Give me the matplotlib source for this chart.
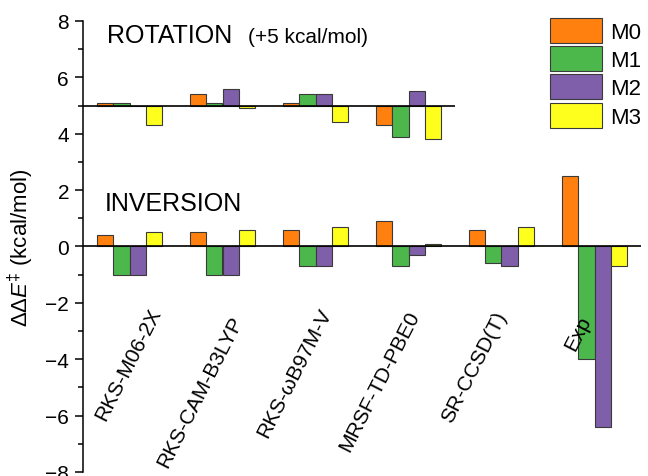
import matplotlib
matplotlib.use("Agg")
import matplotlib.pyplot as plt
import numpy as np

plt.rcParams["font.family"] = ["Liberation Sans", "DejaVu Sans"]
plt.rcParams["mathtext.fontset"] = "custom"
plt.rcParams["mathtext.rm"] = "Liberation Sans"
plt.rcParams["mathtext.it"] = "Liberation Sans:italic"
plt.rcParams["mathtext.bf"] = "Liberation Sans:bold"

# Methods and models
methods = ["RKS-M06-2X", "RKS-CAM-B3LYP", "RKS-\u03c9B97M-V",
           "MRSF-TD-PBE0", "SR-CCSD(T)", "Exp"]
models = ["M0", "M1", "M2", "M3"]

# Rotation barriers (shown shifted by +5 kcal/mol), first four methods only
rotation_M0 = [5.1, 5.4, 5.1, 4.3]
rotation_M1 = [5.1, 5.1, 5.4, 3.9]
rotation_M2 = [5.0, 5.6, 5.4, 5.5]
rotation_M3 = [4.3, 4.9, 4.4, 3.8]

# Inversion barriers
inversion_M0 = [0.4, 0.5, 0.6, 0.9, 0.6, 2.5]
inversion_M1 = [-1.0, -1.0, -0.7, -0.7, -0.6, -4.0]
inversion_M2 = [-1.0, -1.0, -0.7, -0.3, -0.7, -6.4]
inversion_M3 = [0.5, 0.6, 0.7, 0.1, 0.7, -0.7]

rotation_offset = 5.0

colors = ["#FF800E", "#4CB84C", "#7F5FAA", "#FFFF1E"]
edge = "#3a3a3a"

fig = plt.figure(figsize=(6.48, 4.77), dpi=100)
ax = fig.add_axes([83 / 648, 1 - 473 / 477, 558 / 648, 451 / 477])

x = np.arange(len(methods))
w = 0.1726
rot = [rotation_M0, rotation_M1, rotation_M2, rotation_M3]
inv = [inversion_M0, inversion_M1, inversion_M2, inversion_M3]

xr = np.arange(len(rotation_M0))
for k in range(4):
    off = (k - 1.5) * w
    vals = np.array(rot[k])
    ax.bar(xr + off, vals - rotation_offset, width=w, bottom=rotation_offset,
           color=colors[k], edgecolor=edge, linewidth=0.8, align="center",
           zorder=2)
    ax.bar(x + off, inv[k], width=w, color=colors[k], edgecolor=edge,
           linewidth=0.8, align="center", zorder=2, label=models[k])

ax.axhline(0, color="black", lw=1.2, zorder=3)
ax.hlines(rotation_offset, -0.5, len(rotation_M0) - 0.5, color="black",
          lw=1.2, zorder=3)

ax.set_xlim(-0.5, len(methods) - 0.5)
ax.set_ylim(-8, 8)
ax.set_yticks(np.arange(-8, 9, 2))
ax.set_yticks(np.arange(-8, 9, 1), minor=True)
ax.set_xticks([])
for s in ("top", "right", "bottom"):
    ax.spines[s].set_visible(False)
ax.spines["left"].set_linewidth(1.1)
ax.tick_params(axis="y", which="major", length=6, width=1.1, labelsize=15,
               pad=4)
ax.tick_params(axis="y", which="minor", length=3.5, width=1.1)

ax.set_ylabel(r"$\Delta\Delta\mathit{E}^{\ddagger}$ (kcal/mol)", fontsize=16)
ax.yaxis.set_label_coords(-0.084, 0.5)

# Method names written diagonally inside the plot area
label_x = [0.38, 1.26, 2.21, 3.16, 4.10, 5.0]
label_y = [-2.06, -2.35, -2.06, -2.17, -2.17, -2.35]
for name, lx, ly in zip(methods, label_x, label_y):
    ax.text(lx, ly, name, rotation=63, ha="right", va="top", fontsize=15)

ax.text(-0.237, 7.25, "ROTATION", fontsize=18, va="baseline")
ax.text(1.27, 7.25, "(+5 kcal/mol)", fontsize=15, va="baseline")
ax.text(-0.27, 1.28, "INVERSION", fontsize=18, va="baseline")

fig.legend(loc="upper left", bbox_to_anchor=(550 / 648, 1 - 19 / 477),
           frameon=False, fontsize=16, handlelength=2.34, handleheight=1.355,
           labelspacing=0.145, handletextpad=0.36, borderpad=0,
           borderaxespad=0)

fig.savefig("out.png", dpi=100)
